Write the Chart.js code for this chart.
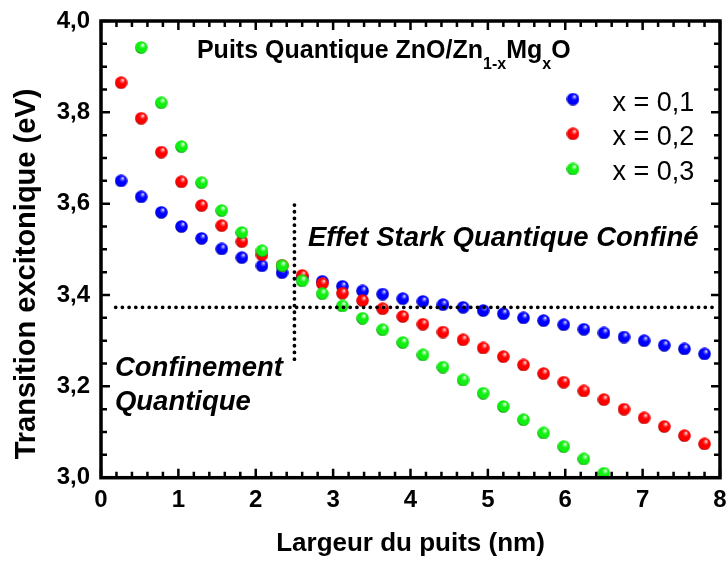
<!DOCTYPE html>
<html><head><meta charset="utf-8">
<script src="https://cdn.jsdelivr.net/npm/chart.js@4.4.1/dist/chart.umd.min.js"></script>
<style>html,body{margin:0;padding:0;background:#fff;}#wrap{width:727px;height:565px;}</style>
</head><body><div id="wrap"><canvas id="c" width="727" height="565"></canvas></div>
<script>
// ---- data (well width in nm, exciton transition energy in eV) ----
const widths = [0.26,0.52,0.78,1.04,1.30,1.56,1.82,2.08,2.34,2.60,2.86,3.12,3.38,3.64,3.90,4.16,4.42,4.68,4.94,5.20,5.46,5.72,5.98,6.24,6.50,6.76,7.02,7.28,7.54,7.80];
const seriesLabels = ['x = 0,1', 'x = 0,2', 'x = 0,3'];
const energyX01 = [3.650,3.615,3.581,3.550,3.524,3.501,3.482,3.464,3.449,3.438,3.430,3.419,3.409,3.402,3.392,3.386,3.379,3.373,3.366,3.359,3.350,3.344,3.335,3.325,3.317,3.308,3.300,3.290,3.282,3.271];
const energyX02 = [3.865,3.787,3.713,3.648,3.596,3.552,3.517,3.488,3.465,3.443,3.425,3.404,3.388,3.370,3.353,3.336,3.319,3.302,3.284,3.265,3.247,3.228,3.209,3.190,3.171,3.150,3.131,3.112,3.092,3.074];
const energyX03 = [null,3.942,3.821,3.725,3.646,3.585,3.537,3.497,3.464,3.431,3.403,3.376,3.349,3.324,3.296,3.269,3.242,3.214,3.185,3.156,3.127,3.098,3.068,3.041,3.010];
const xTickValues = [0,1,2,3,4,5,6,7,8];
const yTickValues = [3.0,3.2,3.4,3.6,3.8,4.0];
// annotation lines
const boundaryWidth = 2.5, boundaryFrom = 3.245, boundaryTo = 3.597;
const bulkEnergy = 3.373, bulkFrom = 0.19, bulkTo = 7.93;

const FF = "'Liberation Sans', Arial, Helvetica, sans-serif";
const COLORS = [
  {base:'#0000ff', light:'#6a6aff', dark:'#00009a'},
  {base:'#ff0000', light:'#ff7070', dark:'#a00000'},
  {base:'#11ee11', light:'#8aff8a', dark:'#009000'}
];
function sphere(c){
  const d = 13, cv = document.createElement('canvas'); cv.width = d; cv.height = d;
  const g = cv.getContext('2d'), r = d/2;
  const gr = g.createRadialGradient(r+1.7, r-2.6, 0.2, r+0.5, r-0.8, r*1.08);
  gr.addColorStop(0, '#ffffff');
  gr.addColorStop(0.16, c.light);
  gr.addColorStop(0.42, c.base);
  gr.addColorStop(0.85, c.base);
  gr.addColorStop(1, c.dark);
  g.fillStyle = gr; g.beginPath(); g.arc(r, r, r-0.2, 0, Math.PI*2); g.fill();
  return cv;
}
const spheres = COLORS.map(sphere);
function pts(vals){ const out=[]; vals.forEach((v,i)=>{ if(v!==null) out.push({x:widths[i], y:v}); }); return out; }

const decor = {
  id:'decor',
  afterDatasetsDraw(chart){
    const {ctx, chartArea:a, scales:{x:xs, y:ys}} = chart;
    ctx.save();
    // dotted lines
    ctx.strokeStyle='#000'; ctx.lineWidth=3.8; ctx.lineCap='round'; ctx.setLineDash([0,6.7]);
    ctx.beginPath();
    ctx.moveTo(xs.getPixelForValue(bulkFrom), ys.getPixelForValue(bulkEnergy));
    ctx.lineTo(xs.getPixelForValue(bulkTo), ys.getPixelForValue(bulkEnergy));
    ctx.stroke();
    ctx.beginPath();
    ctx.moveTo(xs.getPixelForValue(boundaryWidth), ys.getPixelForValue(boundaryTo));
    ctx.lineTo(xs.getPixelForValue(boundaryWidth), ys.getPixelForValue(boundaryFrom));
    ctx.stroke();
    ctx.setLineDash([]);
    // frame
    ctx.lineWidth=3.5; ctx.lineCap='butt';
    ctx.strokeRect(a.left, a.top, a.right-a.left, a.bottom-a.top);
    // inward ticks
    ctx.lineWidth=2.5;
    ctx.beginPath();
    for(let i=0;i<=40;i++){
      const px = xs.getPixelForValue(i*0.2), L = (i%5===0)?9:6;
      ctx.moveTo(px,a.bottom); ctx.lineTo(px,a.bottom-L);
      ctx.moveTo(px,a.top); ctx.lineTo(px,a.top+L);
    }
    for(let i=0;i<=20;i++){
      const py = ys.getPixelForValue(3+i*0.05), L = (i%4===0)?9:6;
      ctx.moveTo(a.left,py); ctx.lineTo(a.left+L,py);
      ctx.moveTo(a.right,py); ctx.lineTo(a.right-L,py);
    }
    ctx.stroke();
    // title with subscripts
    ctx.fillStyle='#000'; ctx.textBaseline='alphabetic'; ctx.textAlign='left';
    let tx = xs.getPixelForValue(1.24); const ty = ys.getPixelForValue(3.918);
    [['Puits Quantique ZnO/Zn',25,0],['1-x',16,11],['Mg',25,0],['x',16,11],['O',25,0]].forEach(([t,s,dy])=>{
      ctx.font = `bold ${s}px ${FF}`; ctx.fillText(t, tx, ty+dy); tx += ctx.measureText(t).width;
    });
    // legend
    const legY = [3.829, 3.753, 3.676];
    ctx.font = `27px ${FF}`;
    seriesLabels.forEach((lab,i)=>{
      const cy = ys.getPixelForValue(legY[i]);
      const cx = xs.getPixelForValue(6.10);
      ctx.drawImage(spheres[i], cx-6.5, cy-6.5);
      ctx.fillText(lab, xs.getPixelForValue(6.61), cy+11.5);
    });
    // region labels
    ctx.font = `italic bold 27.5px ${FF}`;
    ctx.fillText('Effet Stark Quantique Confiné', xs.getPixelForValue(2.674), ys.getPixelForValue(3.508));
    ctx.fillText('Confinement', xs.getPixelForValue(0.18), ys.getPixelForValue(3.222));
    ctx.fillText('Quantique', xs.getPixelForValue(0.18), ys.getPixelForValue(3.149));
    // y axis title
    ctx.font = `bold 29px ${FF}`; ctx.textAlign='center';
    ctx.translate(a.left-66, ys.getPixelForValue(3.446));
    ctx.rotate(-Math.PI/2);
    ctx.fillText('Transition excitonique (eV)', 0, 0);
    ctx.restore();
  }
};

new Chart(document.getElementById('c'), {
  type:'scatter',
  data:{ datasets:[
    {label:seriesLabels[0], data:pts(energyX01), pointStyle:spheres[0], pointRadius:6, order:3},
    {label:seriesLabels[1], data:pts(energyX02), pointStyle:spheres[1], pointRadius:6, order:2},
    {label:seriesLabels[2], data:pts(energyX03), pointStyle:spheres[2], pointRadius:6, order:1}
  ]},
  options:{
    responsive:false, animation:false, devicePixelRatio:1,
    layout:{padding:{top:21, right:6.5, bottom:0, left:0}},
    plugins:{legend:{display:false}, tooltip:{enabled:false}},
    scales:{
      x:{type:'linear', min:0, max:8, position:'bottom',
        afterBuildTicks(s){ s.ticks = xTickValues.map(v=>({value:v})); },
        ticks:{color:'#000', font:{family:FF, size:24, weight:'bold'}, padding:8, maxRotation:0},
        grid:{display:false, drawTicks:false}, border:{display:false},
        title:{display:true, text:'Largeur du puits (nm)', color:'#000', font:{family:FF, size:26, weight:'bold'}, padding:{top:0, bottom:6}},
        afterFit(s){ s.height = 87.3; s.paddingLeft = 0; s.paddingRight = 0; }},
      y:{type:'linear', min:3, max:4,
        afterBuildTicks(s){ s.ticks = yTickValues.map(v=>({value:v})); },
        ticks:{color:'#000', font:{family:FF, size:24, weight:'bold'}, padding:11, callback:v=>v.toFixed(1).replace('.',',')},
        grid:{display:false, drawTicks:false}, border:{display:false},
        afterFit(s){ s.width = 101; s.paddingTop = 0; s.paddingBottom = 0; }}
    }
  },
  plugins:[decor]
});
</script></body></html>
